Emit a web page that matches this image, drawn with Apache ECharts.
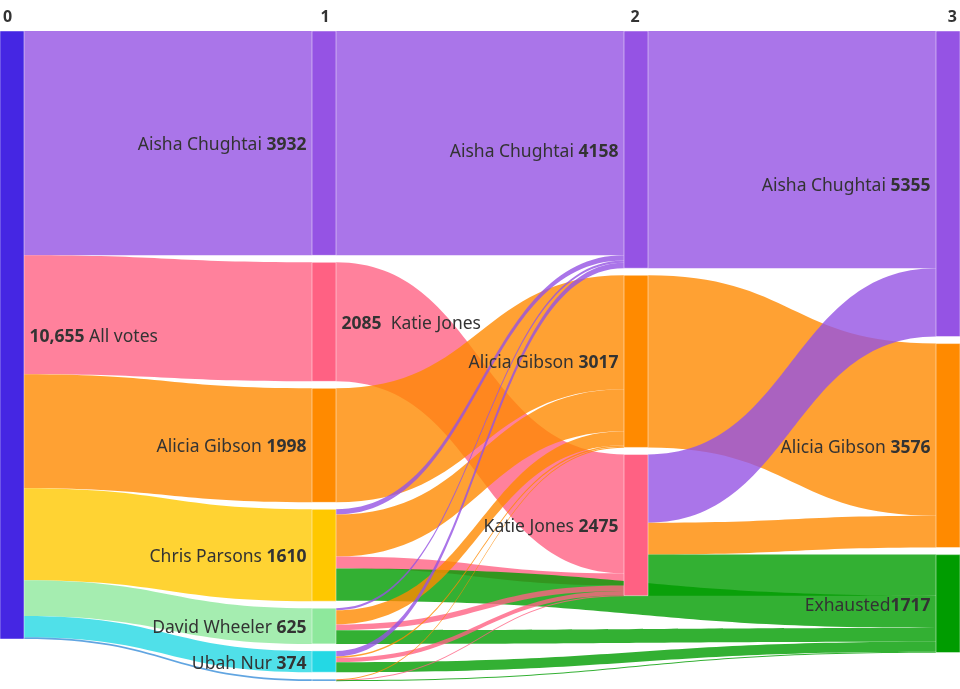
<!DOCTYPE html>
<html style="height: 100%">
<head>
<meta charset="utf-8">
</head>
<body style="height: 100%; margin: 0">
<div id="container" style="height: 100%"></div>
<script type="text/javascript" src="https://cdn.jsdelivr.net/npm/echarts@6/dist/echarts.min.js"></script>
<script type="text/javascript">
var dom = document.getElementById('container');
var myChart = echarts.init(dom);

// round labels shown above the columns
var rounds = ['0', '1', '2', '3'];

// nodes of each round: [name, votes]
var round0 = [['All votes', 10655]];
var round1 = [
    ['Aisha Chughtai', 3932],
    ['Katie Jones', 2085],
    ['Alicia Gibson', 1998],
    ['Chris Parsons', 1610],
    ['David Wheeler', 625],
    ['Ubah Nur', 374],
    ['Write-in', 31]
];
var round2 = [
    ['Aisha Chughtai', 4158],
    ['Alicia Gibson', 3017],
    ['Katie Jones', 2475]
];
var round3 = [
    ['Aisha Chughtai', 5355],
    ['Alicia Gibson', 3576],
    ['Exhausted', 1717]
];

// vote transfers: [from round, from, to round, to, votes]
var flows = [
    [0, 'All votes', 1, 'Aisha Chughtai', 3932],
    [0, 'All votes', 1, 'Katie Jones', 2085],
    [0, 'All votes', 1, 'Alicia Gibson', 1998],
    [0, 'All votes', 1, 'Chris Parsons', 1610],
    [0, 'All votes', 1, 'David Wheeler', 625],
    [0, 'All votes', 1, 'Ubah Nur', 374],
    [0, 'All votes', 1, 'Write-in', 31],

    [1, 'Aisha Chughtai', 2, 'Aisha Chughtai', 3932],
    [1, 'Katie Jones', 2, 'Katie Jones', 2085],
    [1, 'Alicia Gibson', 2, 'Alicia Gibson', 1998],
    [1, 'Chris Parsons', 2, 'Aisha Chughtai', 92],
    [1, 'Chris Parsons', 2, 'Alicia Gibson', 735],
    [1, 'Chris Parsons', 2, 'Katie Jones', 210],
    [1, 'Chris Parsons', 3, 'Exhausted', 566],
    [1, 'David Wheeler', 2, 'Aisha Chughtai', 36],
    [1, 'David Wheeler', 2, 'Alicia Gibson', 248],
    [1, 'David Wheeler', 2, 'Katie Jones', 100],
    [1, 'David Wheeler', 3, 'Exhausted', 241],
    [1, 'Ubah Nur', 2, 'Aisha Chughtai', 98],
    [1, 'Ubah Nur', 2, 'Alicia Gibson', 26],
    [1, 'Ubah Nur', 2, 'Katie Jones', 74],
    [1, 'Ubah Nur', 3, 'Exhausted', 176],
    [1, 'Write-in', 2, 'Alicia Gibson', 10],
    [1, 'Write-in', 2, 'Katie Jones', 6],
    [1, 'Write-in', 3, 'Exhausted', 15],

    [2, 'Aisha Chughtai', 3, 'Aisha Chughtai', 4158],
    [2, 'Alicia Gibson', 3, 'Alicia Gibson', 3017],
    [2, 'Katie Jones', 3, 'Aisha Chughtai', 1197],
    [2, 'Katie Jones', 3, 'Alicia Gibson', 559],
    [2, 'Katie Jones', 3, 'Exhausted', 719]
];

var colors = {
    'All votes': '#4526e3',
    'Aisha Chughtai': '#9553e4',
    'Katie Jones': '#ff6183',
    'Alicia Gibson': '#ff8a00',
    'Chris Parsons': '#ffc800',
    'David Wheeler': '#8ee89c',
    'Ubah Nur': '#24d8e4',
    'Write-in': '#3a8fd9',
    'Exhausted': '#009c00'
};

var FONT = 'Noto Sans';
var LABEL_SIZE = 17.5;

function key(r, name) {
    return name + ' #' + r;
}

function fmt(v) {
    return v >= 10000 ? echarts.format.addCommas(v) : String(v);
}

var nodes = [];
[round0, round1, round2, round3].forEach(function (list, r) {
    list.forEach(function (item) {
        var name = item[0], votes = item[1];
        var text;
        var pos = 'left';
        if (r === 0) {
            pos = 'right';
            text = '{b|' + fmt(votes) + '} {n|' + name + '}';
        } else if (r === 1 && name === 'Katie Jones') {
            pos = 'right';
            text = '{b|' + votes + '}  {n|' + name + '}';
        } else if (name === 'Exhausted') {
            text = '{n|' + name + '}{b|' + votes + '}';
        } else {
            text = '{n|' + name + '} {b|' + votes + '}';
        }
        nodes.push({
            name: key(r, name),
            value: votes,
            depth: r,
            itemStyle: {color: colors[name]},
            label: {
                show: name !== 'Write-in',
                position: pos,
                formatter: text
            }
        });
    });
});

var links = flows.map(function (f) {
    return {
        source: key(f[0], f[1]),
        target: key(f[2], f[3]),
        value: f[4]
    };
});

var roundStyle = {fontSize: 16, fontWeight: 'bold', color: '#333', fontFamily: FONT};

var option = {
    animation: false,
    textStyle: {fontFamily: FONT},
    grid: {left: 12, right: 12, top: 31, bottom: 8},
    xAxis: {
        type: 'category',
        position: 'top',
        data: rounds,
        boundaryGap: false,
        axisLine: {show: false},
        axisTick: {show: false},
        splitLine: {show: false},
        axisLabel: {
            margin: 6,
            formatter: function (v, i) {
                if (i === 0) return '{l|' + v + '}';
                if (i === rounds.length - 1) return '{r|' + v + '}';
                return '{c|' + v + '}';
            },
            rich: {
                l: Object.assign({width: 24, align: 'left'}, roundStyle),
                r: Object.assign({width: 24, align: 'right'}, roundStyle),
                c: roundStyle
            }
        }
    },
    yAxis: {type: 'value', show: false},
    series: [{
        type: 'sankey',
        left: 0,
        right: 0,
        top: 31,
        bottom: 8,
        nodeWidth: 24,
        nodeGap: 7,
        layoutIterations: 0,
        draggable: false,
        emphasis: {disabled: true},
        data: nodes,
        links: links,
        itemStyle: {
            borderWidth: 1,
            borderColor: 'rgba(255,255,255,0.45)'
        },
        lineStyle: {
            color: 'target',
            opacity: 0.8,
            curveness: 0.5
        },
        label: {
            distance: 5,
            offset: [0, 2],
            color: '#333',
            fontSize: LABEL_SIZE,
            rich: {
                n: {fontSize: LABEL_SIZE, color: '#333', fontFamily: FONT},
                b: {fontSize: LABEL_SIZE, fontWeight: 'bold', color: '#333', fontFamily: FONT}
            }
        }
    }]
};

myChart.setOption(option);
</script>
</body>
</html>
